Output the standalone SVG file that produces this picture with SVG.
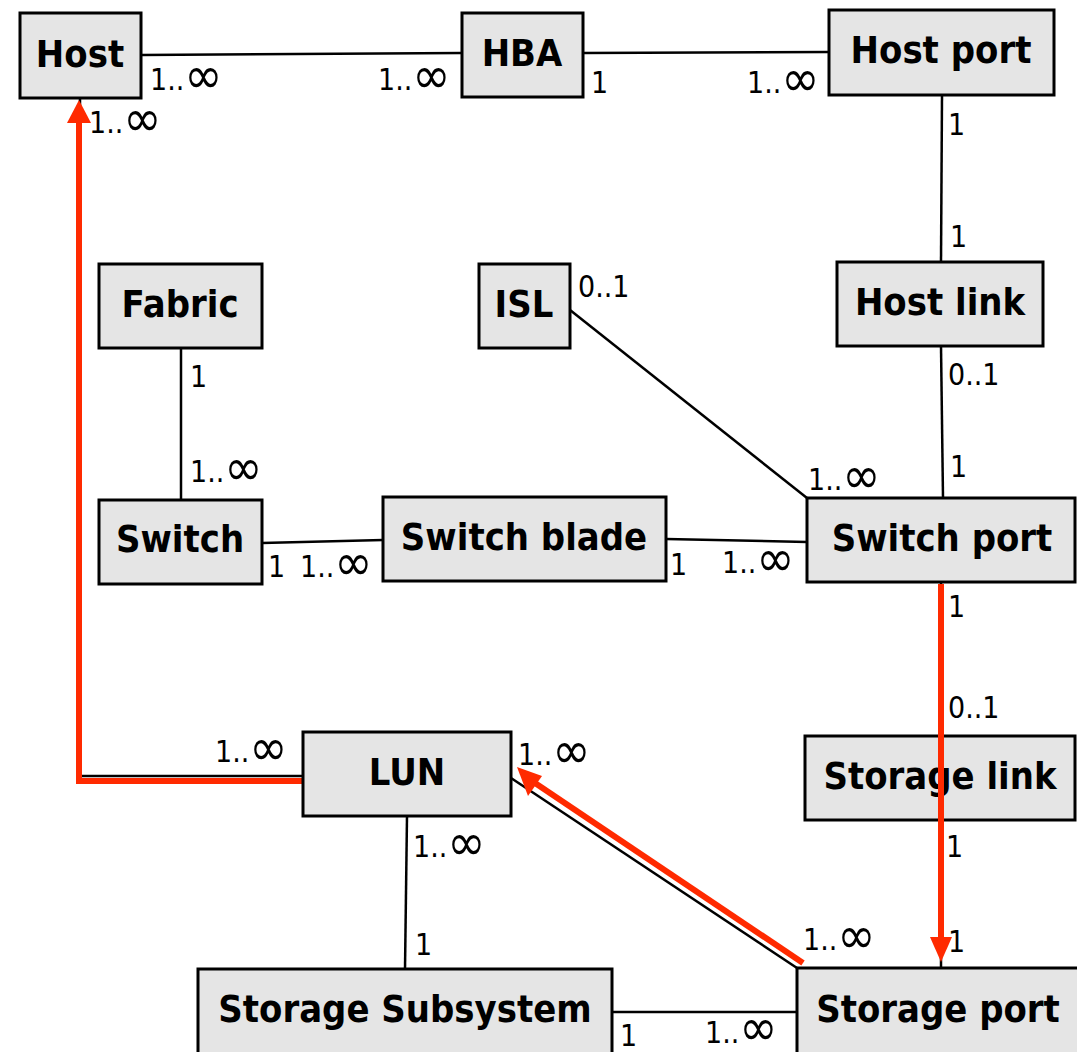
<svg xmlns="http://www.w3.org/2000/svg" width="1077" height="1052" viewBox="0 0 1077 1052">
<defs>
<style>
.box{fill:#e5e5e5;stroke:#000;stroke-width:3}
.nt{font-family:"DejaVu Sans",sans-serif;font-weight:bold;font-size:34px;text-anchor:middle;fill:#000}
.lb{font-family:"DejaVu Sans",sans-serif;font-size:27px;fill:#000}
.inf{font-size:46px}
.ln{fill:none;stroke:#000;stroke-width:2.5}
.red{fill:none;stroke:#ff2a00;stroke-width:6}
.rh{fill:#ff2a00}
</style>
</defs>
<rect width="1077" height="1052" fill="#fff"/>
<g id="connectors">
<path class="ln" d="M141,55 L462,53"/>
<path class="ln" d="M583,53 L829,52"/>
<path class="ln" d="M942,95 L941,262"/>
<path class="ln" d="M941,346 L943,498"/>
<path class="ln" d="M570,310 L807,498"/>
<path class="ln" d="M181,348 L181,500"/>
<path class="ln" d="M262,543 L383,540"/>
<path class="ln" d="M666,539 L807,542"/>
<path class="ln" d="M941,582 L941,736"/>
<path class="ln" d="M941,820 L941,968"/>
<path class="ln" d="M303,776 L80,776 L80,98"/>
<path class="ln" d="M511,778 L797,968"/>
<path class="ln" d="M407,816 L405,969"/>
<path class="ln" d="M612,1012 L797,1012"/>
<path class="red" d="M305,781 L79,781 L79,120"/>
<path class="rh" d="M67,123 L91,123 L79,100 z"/>
<path class="red" d="M803,963 L535,783"/>
<path class="rh" d="M528,796 L542,776 L517,767 z"/>
<text class="lb" transform="translate(150,90) scale(1,1.12)">1..<tspan class="inf" dy="3">∞</tspan></text>
<text class="lb" transform="translate(378,90) scale(1,1.12)">1..<tspan class="inf" dy="3">∞</tspan></text>
<text class="lb" transform="translate(591,93) scale(1,1.12)">1</text>
<text class="lb" transform="translate(747,93) scale(1,1.12)">1..<tspan class="inf" dy="3">∞</tspan></text>
<text class="lb" transform="translate(948,135) scale(1,1.12)">1</text>
<text class="lb" transform="translate(950,247) scale(1,1.12)">1</text>
<text class="lb" transform="translate(948,385) scale(1,1.12)">0..1</text>
<text class="lb" transform="translate(950,477) scale(1,1.12)">1</text>
<text class="lb" transform="translate(578,297) scale(1,1.12)">0..1</text>
<text class="lb" transform="translate(808,490) scale(1,1.12)">1..<tspan class="inf" dy="3">∞</tspan></text>
<text class="lb" transform="translate(190,387) scale(1,1.12)">1</text>
<text class="lb" transform="translate(190,482) scale(1,1.12)">1..<tspan class="inf" dy="3">∞</tspan></text>
<text class="lb" transform="translate(268,577) scale(1,1.12)">1</text>
<text class="lb" transform="translate(300,577) scale(1,1.12)">1..<tspan class="inf" dy="3">∞</tspan></text>
<text class="lb" transform="translate(670,575) scale(1,1.12)">1</text>
<text class="lb" transform="translate(722,573) scale(1,1.12)">1..<tspan class="inf" dy="3">∞</tspan></text>
<text class="lb" transform="translate(948,617) scale(1,1.12)">1</text>
<text class="lb" transform="translate(948,718) scale(1,1.12)">0..1</text>
<text class="lb" transform="translate(946,857) scale(1,1.12)">1</text>
<text class="lb" transform="translate(948,952) scale(1,1.12)">1</text>
<text class="lb" transform="translate(215,762) scale(1,1.12)">1..<tspan class="inf" dy="3">∞</tspan></text>
<text class="lb" transform="translate(89,133) scale(1,1.12)">1..<tspan class="inf" dy="3">∞</tspan></text>
<text class="lb" transform="translate(518,765) scale(1,1.12)">1..<tspan class="inf" dy="3">∞</tspan></text>
<text class="lb" transform="translate(413,857) scale(1,1.12)">1..<tspan class="inf" dy="3">∞</tspan></text>
<text class="lb" transform="translate(415,955) scale(1,1.12)">1</text>
<text class="lb" transform="translate(620,1046) scale(1,1.12)">1</text>
<text class="lb" transform="translate(705,1043) scale(1,1.12)">1..<tspan class="inf" dy="2">∞</tspan></text>
<text class="lb" transform="translate(803,950) scale(1,1.12)">1..<tspan class="inf" dy="3">∞</tspan></text>
</g>
<g id="host"><rect class="box" x="20" y="13" width="121" height="85"/><text class="nt" transform="translate(80,67) scale(1,1.1)">Host</text></g>
<g id="hba"><rect class="box" x="462" y="13" width="121" height="84"/><text class="nt" transform="translate(522,66) scale(1,1.1)">HBA</text></g>
<g id="hostport"><rect class="box" x="829" y="10" width="225" height="85"/><text class="nt" transform="translate(941,63) scale(1,1.1)">Host port</text></g>
<g id="fabric"><rect class="box" x="99" y="264" width="163" height="84"/><text class="nt" transform="translate(180,317) scale(1,1.1)">Fabric</text></g>
<g id="isl"><rect class="box" x="479" y="264" width="91" height="84"/><text class="nt" transform="translate(524,317) scale(1,1.1)">ISL</text></g>
<g id="hostlink"><rect class="box" x="837" y="262" width="206" height="84"/><text class="nt" transform="translate(940,315) scale(1,1.1)">Host link</text></g>
<g id="switch"><rect class="box" x="99" y="500" width="163" height="84"/><text class="nt" transform="translate(180,552) scale(1,1.1)">Switch</text></g>
<g id="switchblade"><rect class="box" x="383" y="497" width="283" height="84"/><text class="nt" transform="translate(524,550) scale(1,1.1)">Switch blade</text></g>
<g id="switchport"><rect class="box" x="807" y="498" width="268" height="84"/><text class="nt" transform="translate(942,551) scale(1,1.1)">Switch port</text></g>
<g id="lun"><rect class="box" x="303" y="732" width="208" height="84"/><text class="nt" transform="translate(407,785) scale(1,1.1)">LUN</text></g>
<g id="storagelink"><rect class="box" x="805" y="736" width="270" height="84"/><text class="nt" transform="translate(940,789) scale(1,1.1)">Storage link</text></g>
<g id="storagesubsystem"><rect class="box" x="198" y="969" width="414" height="100"/><text class="nt" transform="translate(405,1022) scale(1,1.1)">Storage Subsystem</text></g>
<g id="storageport"><rect class="box" x="797" y="968" width="290" height="100"/><text class="nt" transform="translate(938,1022) scale(1,1.1)">Storage port</text></g>
<g id="highlight">
<path class="red" d="M941,584 L941,940"/>
<path class="rh" d="M930,937 L952,937 L941,962 z"/>
</g>
</svg>
